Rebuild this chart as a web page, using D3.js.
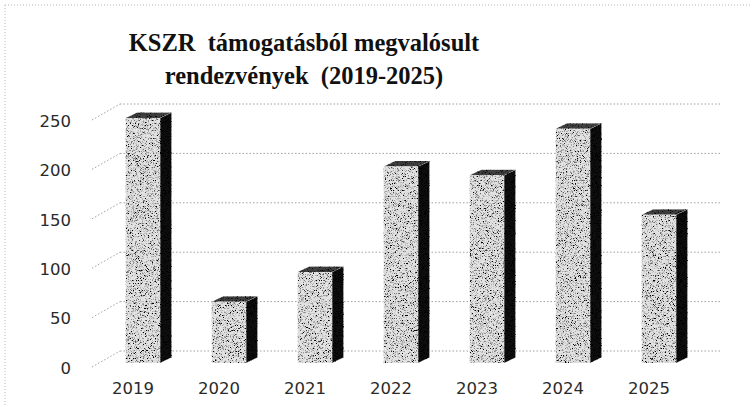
<!DOCTYPE html>
<html>
<head>
<meta charset="utf-8">
<script src="https://cdn.jsdelivr.net/npm/d3@7"></script>
<style>
  html, body { margin: 0; padding: 0; background: #fff; }
  svg { display: block; }
  .title { white-space: pre; }
</style>
</head>
<body>
<svg id="chart" width="753" height="407"></svg>
<script>
// Events held with KSZR support, per year
const years = ["2019", "2020", "2021", "2022", "2023", "2024", "2025"];
const events = [248, 62, 92, 199, 190, 237, 150];
const yTicks = [0, 50, 100, 150, 200, 250];
const titleLines = ["KSZR  támogatásból megvalósult", "rendezvények  (2019-2025)"];

const W = 753, H = 407;
const svg = d3.select("#chart");

// 3D geometry: back wall sits up/right of the bar fronts
const wallShiftY = -12;            // back wall relative to bar front plane
const wallLeft = 120, wallRight = 722;
const floorDx = -28, floorDy = 16; // front edge of the floor relative to the wall
const depth = { dx: 11.5, dy: -5.5 }; // bar depth

const y = d3.scaleLinear().domain([0, 250]).range([363, 363 - 250 * 0.988]);
const x = d3.scaleBand().domain(years).range([99.9, 701.9])
  .paddingInner(0.6).paddingOuter(0.3);

// grain texture for the bar faces
const defs = svg.append("defs");
const f = defs.append("filter").attr("id", "grain")
  .attr("x", 0).attr("y", 0).attr("width", 1).attr("height", 1)
  .attr("filterUnits", "objectBoundingBox");
f.append("feTurbulence").attr("type", "fractalNoise")
  .attr("baseFrequency", 1.4).attr("numOctaves", 2).attr("seed", 7).attr("result", "noise");
f.append("feColorMatrix").attr("in", "noise").attr("type", "matrix")
  .attr("values", "4.5 0 0 0 -1.25  4.5 0 0 0 -1.25  4.5 0 0 0 -1.25  0 0 0 0 1")
  .attr("result", "gray");
f.append("feComposite").attr("in", "gray").attr("in2", "SourceGraphic")
  .attr("operator", "in").attr("result", "tex");
f.append("feBlend").attr("in", "tex").attr("in2", "SourceGraphic").attr("mode", "multiply");

// dotted frame (top and left edges)
svg.append("line").attr("x1", 5).attr("x2", W - 3).attr("y1", 5).attr("y2", 5)
  .attr("stroke", "#b5b5b5").attr("stroke-dasharray", "1,2");
svg.append("line").attr("x1", 5).attr("x2", 5).attr("y1", 5).attr("y2", H)
  .attr("stroke", "#b5b5b5").attr("stroke-dasharray", "1,2");

// title
const title = svg.append("text")
  .attr("class", "title")
  .attr("text-anchor", "middle")
  .attr("font-family", "'Liberation Serif', 'Times New Roman', serif")
  .attr("font-weight", "bold")
  .attr("font-size", 24.5)
  .attr("fill", "#111");
titleLines.forEach((t, i) => {
  title.append("tspan").attr("x", 304).attr("y", 51 + i * 33).text(t);
});

// gridlines on the back wall plus the receding lines to the front edge
const grid = svg.append("g").attr("stroke", "#a0a0a0").attr("stroke-width", 1)
  .attr("stroke-dasharray", "1.5,2").attr("fill", "none");
yTicks.forEach(v => {
  const yb = y(v) + wallShiftY;
  grid.append("line").attr("x1", wallLeft).attr("x2", wallRight).attr("y1", yb).attr("y2", yb);
  grid.append("line").attr("x1", wallLeft + floorDx).attr("y1", yb + floorDy)
    .attr("x2", wallLeft).attr("y2", yb);
});

// y axis labels
const yAxis = d3.axisLeft(y).tickValues(yTicks).tickSize(0).tickPadding(0);
svg.append("g")
  .attr("transform", `translate(71, ${wallShiftY + floorDy + 1})`)
  .call(yAxis)
  .call(g => g.select(".domain").remove())
  .call(g => g.selectAll("text")
    .attr("font-family", "'DejaVu Sans', Verdana, sans-serif")
    .attr("font-size", 16.5).attr("fill", "#2a2a2a"));

// bars: front face, top and right side
const bars = svg.append("g").attr("filter", "url(#grain)");
years.forEach((yr, i) => {
  const v = events[i];
  const x0 = x(yr), x1 = x0 + x.bandwidth();
  const yt = y(v), yb = y(0);
  const g = bars.append("g");
  g.append("path").attr("fill", "#0c0c0c")
    .attr("d", `M${x1},${yt}L${x1 + depth.dx},${yt + depth.dy}L${x1 + depth.dx},${yb + depth.dy}L${x1},${yb}Z`);
  g.append("path").attr("fill", "#404040")
    .attr("d", `M${x0},${yt}L${x0 + depth.dx},${yt + depth.dy}L${x1 + depth.dx},${yt + depth.dy}L${x1},${yt}Z`);
  g.append("rect").attr("x", x0).attr("y", yt).attr("width", x1 - x0).attr("height", yb - yt)
    .attr("fill", "#e2e2e2");
});

// x axis labels along the front edge of the floor
const xAxis = d3.axisBottom(x).tickSize(0).tickPadding(0);
svg.append("g")
  .attr("transform", `translate(-10, 394)`)
  .call(xAxis)
  .call(g => g.select(".domain").remove())
  .call(g => g.selectAll("text")
    .attr("dy", 0).attr("y", 0)
    .attr("font-family", "'DejaVu Sans', Verdana, sans-serif")
    .attr("font-size", 16.5).attr("fill", "#2a2a2a"));
</script>
</body>
</html>
